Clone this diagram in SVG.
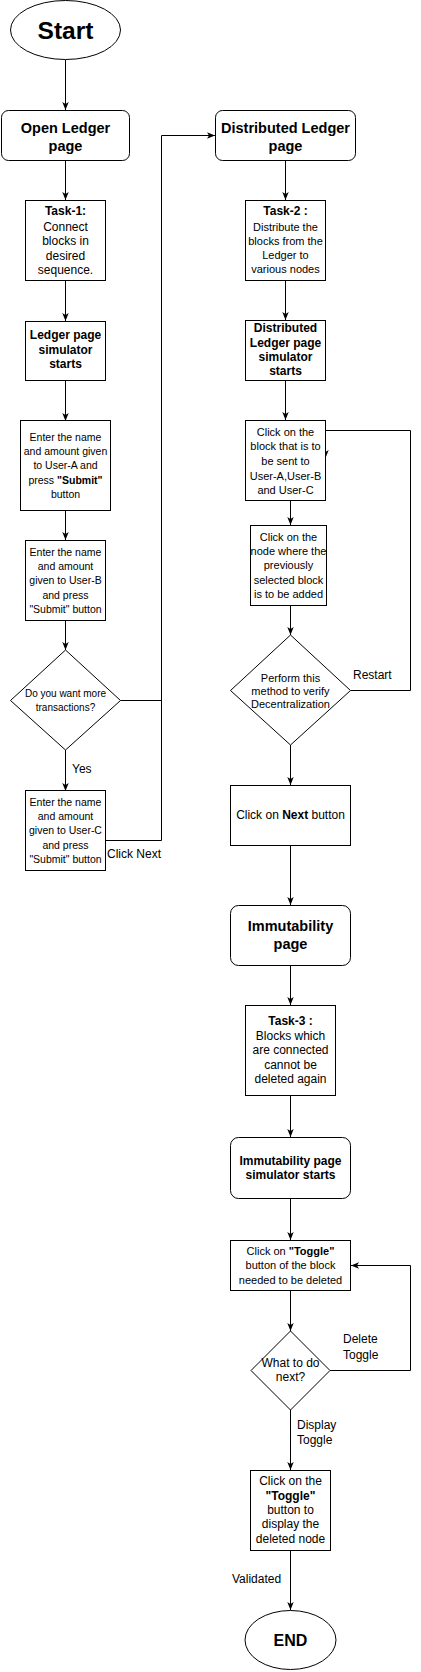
<svg xmlns="http://www.w3.org/2000/svg" width="421" height="1672" viewBox="0 0 421 1672">
<style>
.n{fill:#fff;stroke:#000;stroke-width:1}
.c{fill:none;stroke:#000;stroke-width:1}
text{font-family:"Liberation Sans",Arial,sans-serif;fill:#000;text-anchor:middle;dominant-baseline:central}
.h{font-size:14.5px;font-weight:bold}
.b12{font-size:12px;font-weight:bold}
.t12{font-size:12px}
.t11{font-size:11px}
.t105{font-size:10.5px}
.t10{font-size:10px}
.lbl{font-size:12px;text-anchor:start}
</style>
<defs>
<marker id="arr" viewBox="0 0 8 8" refX="8" refY="4" markerWidth="8" markerHeight="8" markerUnits="userSpaceOnUse" orient="auto">
<path d="M0,0.8 L8,4 L0,7.2 L2,4 z" fill="#000"/>
</marker>
</defs>
<g id="connectors">
<path class="c" d="M65.5,60 V110" marker-end="url(#arr)"/>
<path class="c" d="M65.5,160 V200" marker-end="url(#arr)"/>
<path class="c" d="M65.5,281 V321" marker-end="url(#arr)"/>
<path class="c" d="M65.5,380 V421" marker-end="url(#arr)"/>
<path class="c" d="M65.5,510 V540" marker-end="url(#arr)"/>
<path class="c" d="M65.5,620 V650" marker-end="url(#arr)"/>
<path class="c" d="M65.5,750 V791" marker-end="url(#arr)"/>
<path class="c" d="M106,840.5 H161.5 V135.5 H215" marker-end="url(#arr)"/>
<path class="c" d="M120.5,700.5 H161.5"/>
<path class="c" d="M285.5,160 V200" marker-end="url(#arr)"/>
<path class="c" d="M285.5,280 V320" marker-end="url(#arr)"/>
<path class="c" d="M285.5,380 V420" marker-end="url(#arr)"/>
<path class="c" d="M290.5,500 V525" marker-end="url(#arr)"/>
<path class="c" d="M290.5,605 V635" marker-end="url(#arr)"/>
<path class="c" d="M350.5,690.5 H410.5 V430.5 H325.5 V458" marker-end="url(#arr)"/>
<path class="c" d="M290.5,745 V785" marker-end="url(#arr)"/>
<path class="c" d="M290.5,846 V905" marker-end="url(#arr)"/>
<path class="c" d="M290.5,965 V1005" marker-end="url(#arr)"/>
<path class="c" d="M290.5,1095 V1137" marker-end="url(#arr)"/>
<path class="c" d="M290.5,1198 V1240" marker-end="url(#arr)"/>
<path class="c" d="M290.5,1290 V1331" marker-end="url(#arr)"/>
<path class="c" d="M330,1370.5 H410.5 V1265.5 H351" marker-end="url(#arr)"/>
<path class="c" d="M290.5,1410 V1470" marker-end="url(#arr)"/>
<path class="c" d="M290.5,1550 V1610" marker-end="url(#arr)"/>
<text class="lbl" x="72" y="769">Yes</text>
<text class="lbl" x="107" y="854">Click Next</text>
<text class="lbl" x="353" y="675">Restart</text>
<text class="lbl" x="343" y="1339">Delete</text>
<text class="lbl" x="343" y="1355">Toggle</text>
<text class="lbl" x="297" y="1425">Display</text>
<text class="lbl" x="297" y="1440">Toggle</text>
<text class="lbl" x="232" y="1579">Validated</text>
</g>
<g id="start">
<ellipse class="n" cx="65.5" cy="30" rx="55" ry="29.5"/>
<text x="65.5" y="30" style="font-size:24.5px;font-weight:bold">Start</text>
</g>
<g id="open-ledger">
<rect class="n" x="1.5" y="110.5" width="128" height="50" rx="7"/>
<text class="h" x="65.5" y="128">Open Ledger</text>
<text class="h" x="65.5" y="146">page</text>
</g>
<g id="task1">
<rect class="n" x="25.5" y="200.5" width="80" height="80"/>
<text class="b12" x="65.5" y="211">Task-1:</text>
<text class="t12" x="65.5" y="226.5">Connect</text>
<text class="t12" x="65.5" y="241">blocks in</text>
<text class="t12" x="65.5" y="255.5">desired</text>
<text class="t12" x="65.5" y="269.5">sequence.</text>
</g>
<g id="ledger-sim">
<rect class="n" x="25.5" y="321.5" width="80" height="59"/>
<text class="b12" x="65.5" y="335">Ledger page</text>
<text class="b12" x="65.5" y="350">simulator</text>
<text class="b12" x="65.5" y="364">starts</text>
</g>
<g id="user-a">
<rect class="n" x="20.5" y="420.5" width="90" height="90"/>
<text class="t105" x="65.5" y="436.5">Enter the name</text>
<text class="t105" x="65.5" y="451">and amount given</text>
<text class="t105" x="65.5" y="465">to User-A and</text>
<text class="t105" x="65.5" y="479.5">press <tspan font-weight="bold">"Submit"</tspan></text>
<text class="t105" x="65.5" y="494">button</text>
</g>
<g id="user-b">
<rect class="n" x="25.5" y="540.5" width="80" height="80"/>
<text class="t105" x="65.5" y="551.5">Enter the name</text>
<text class="t105" x="65.5" y="566">and amount</text>
<text class="t105" x="65.5" y="580">given to User-B</text>
<text class="t105" x="65.5" y="594.5">and press</text>
<text class="t105" x="65.5" y="608.5">"Submit" button</text>
</g>
<g id="more-tx">
<polygon class="n" points="65.5,650 120.5,700.5 65.5,750 10.5,700.5"/>
<text class="t10" x="65.5" y="693">Do you want more</text>
<text class="t10" x="65.5" y="707">transactions?</text>
</g>
<g id="user-c">
<rect class="n" x="25.5" y="790.5" width="80" height="80"/>
<text class="t105" x="65.5" y="801.5">Enter the name</text>
<text class="t105" x="65.5" y="816">and amount</text>
<text class="t105" x="65.5" y="830">given to User-C</text>
<text class="t105" x="65.5" y="844.5">and press</text>
<text class="t105" x="65.5" y="858.5">"Submit" button</text>
</g>
<g id="dist-ledger">
<rect class="n" x="215.5" y="110.5" width="140" height="50" rx="7"/>
<text class="h" x="285.5" y="127.5">Distributed Ledger</text>
<text class="h" x="285.5" y="145.5">page</text>
</g>
<g id="task2">
<rect class="n" x="245.5" y="200.5" width="80" height="80"/>
<text class="b12" x="285.5" y="211">Task-2 :</text>
<text class="t11" x="285.5" y="226.5">Distribute the</text>
<text class="t11" x="285.5" y="240.5">blocks from the</text>
<text class="t11" x="285.5" y="255">Ledger to</text>
<text class="t11" x="285.5" y="269">various nodes</text>
</g>
<g id="dist-sim">
<rect class="n" x="245.5" y="320.5" width="80" height="60"/>
<text class="b12" x="285.5" y="328">Distributed</text>
<text class="b12" x="285.5" y="342.5">Ledger page</text>
<text class="b12" x="285.5" y="356.5">simulator</text>
<text class="b12" x="285.5" y="370.5">starts</text>
</g>
<g id="click-block">
<rect class="n" x="245.5" y="420.5" width="80" height="80"/>
<text class="t11" x="285.5" y="431.5">Click on the</text>
<text class="t11" x="285.5" y="446">block that is to</text>
<text class="t11" x="285.5" y="460.5">be sent to</text>
<text class="t11" x="285.5" y="475.5">User-A,User-B</text>
<text class="t11" x="285.5" y="489.5">and User-C</text>
</g>
<g id="click-node">
<rect class="n" x="250.5" y="525.5" width="76" height="80"/>
<text class="t11" x="288.5" y="536.5">Click on the</text>
<text class="t11" x="288.5" y="550.5">node where the</text>
<text class="t11" x="288.5" y="565">previously</text>
<text class="t11" x="288.5" y="579.5">selected block</text>
<text class="t11" x="288.5" y="594">is to be added</text>
</g>
<g id="verify">
<polygon class="n" points="290.5,635 350.5,690.5 290.5,745 230.5,690.5"/>
<text class="t11" x="290.5" y="677.5">Perform this</text>
<text class="t11" x="290.5" y="690.5">method to verify</text>
<text class="t11" x="290.5" y="704">Decentralization</text>
</g>
<g id="next">
<rect class="n" x="230.5" y="785.5" width="120" height="60"/>
<text class="t12" x="290.5" y="814.5">Click on <tspan font-weight="bold">Next</tspan> button</text>
</g>
<g id="immut">
<rect class="n" x="230.5" y="905.5" width="120" height="60" rx="8"/>
<text class="h" x="290.5" y="926">Immutability</text>
<text class="h" x="290.5" y="943.5">page</text>
</g>
<g id="task3">
<rect class="n" x="245.5" y="1005.5" width="90" height="90"/>
<text class="b12" x="290.5" y="1021">Task-3 :</text>
<text class="t12" x="290.5" y="1036">Blocks which</text>
<text class="t12" x="290.5" y="1050">are connected</text>
<text class="t12" x="290.5" y="1064.5">cannot be</text>
<text class="t12" x="290.5" y="1078.5">deleted again</text>
</g>
<g id="immut-sim">
<rect class="n" x="230.5" y="1137.5" width="120" height="61" rx="8"/>
<text class="b12" x="290.5" y="1161">Immutability page</text>
<text class="b12" x="290.5" y="1175">simulator starts</text>
</g>
<g id="toggle-delete">
<rect class="n" x="230.5" y="1240.5" width="120" height="50"/>
<text class="t11" x="290.5" y="1251">Click on <tspan font-weight="bold">"Toggle"</tspan></text>
<text class="t11" x="290.5" y="1265">button of the block</text>
<text class="t11" x="290.5" y="1279.5">needed to be deleted</text>
</g>
<g id="what-next">
<polygon class="n" points="290.5,1331 330,1370.5 290.5,1410 251,1370.5"/>
<text class="t12" x="290.5" y="1362.5">What to do</text>
<text class="t12" x="290.5" y="1377">next?</text>
</g>
<g id="toggle-display">
<rect class="n" x="250.5" y="1470.5" width="80" height="80"/>
<text class="t12" x="290.5" y="1481">Click on the</text>
<text class="b12" x="290.5" y="1496">"Toggle"</text>
<text class="t12" x="290.5" y="1510">button to</text>
<text class="t12" x="290.5" y="1523.5">display the</text>
<text class="t12" x="290.5" y="1538.5">deleted node</text>
</g>
<g id="end">
<ellipse class="n" cx="290.5" cy="1640" rx="45.5" ry="29.5"/>
<text x="290.5" y="1640" style="font-size:16px;font-weight:bold">END</text>
</g>
</svg>
